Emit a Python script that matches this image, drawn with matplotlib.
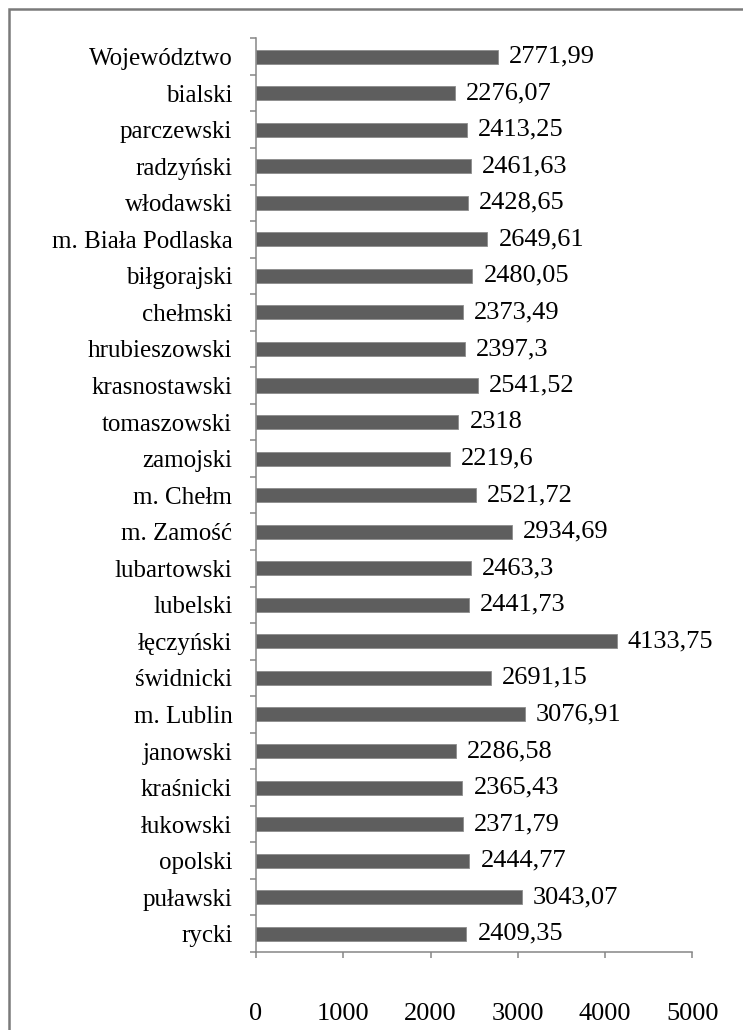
import numpy as np
import matplotlib
matplotlib.use('Agg')
import matplotlib.pyplot as plt
from matplotlib.patches import Rectangle

# dane z wykresu (od góry do dołu)
regions = ["Województwo", "bialski", "parczewski", "radzyński", "włodawski",
           "m. Biała Podlaska", "biłgorajski", "chełmski", "hrubieszowski",
           "krasnostawski", "tomaszowski", "zamojski", "m. Chełm", "m. Zamość",
           "lubartowski", "lubelski", "łęczyński", "świdnicki", "m. Lublin",
           "janowski", "kraśnicki", "łukowski", "opolski", "puławski", "rycki"]
values = [2771.99, 2276.07, 2413.25, 2461.63, 2428.65,
          2649.61, 2480.05, 2373.49, 2397.3,
          2541.52, 2318, 2219.6, 2521.72, 2934.69,
          2463.3, 2441.73, 4133.75, 2691.15, 3076.91,
          2286.58, 2365.43, 2371.79, 2444.77, 3043.07, 2409.35]
value_labels = ["2771,99", "2276,07", "2413,25", "2461,63", "2428,65",
                "2649,61", "2480,05", "2373,49", "2397,3",
                "2541,52", "2318", "2219,6", "2521,72", "2934,69",
                "2463,3", "2441,73", "4133,75", "2691,15", "3076,91",
                "2286,58", "2365,43", "2371,79", "2444,77", "3043,07", "2409,35"]
xticks = [0, 1000, 2000, 3000, 4000, 5000]

plt.rcParams['font.family'] = ['Liberation Serif', 'DejaVu Serif']

fig = plt.figure(figsize=(7.43, 10.30), dpi=100)
ax = fig.add_axes([0.3445, 0.0757, 0.5875, 0.8871])

n = len(regions)
pos = np.arange(n)[::-1]
ax.barh(pos, values, height=0.385, color='#5e5e5e', edgecolor='#8c8c8c', linewidth=0.6)

for p, v, lab in zip(pos, values, value_labels):
    ax.annotate(lab, (v, p), xytext=(8, 0), textcoords='offset points',
                va='center', ha='left', fontsize=19)

ax.set_xlim(0, 5000)
ax.set_ylim(-0.5, n - 0.5)
ax.set_xticks(xticks)
ax.set_xticklabels([str(t) for t in xticks], fontsize=19)
ax.set_yticks(pos)
ax.set_yticklabels(regions, fontsize=18)
ax.set_yticks(np.arange(n + 1) - 0.5, minor=True)

axis_col = '#868686'
ax.tick_params(axis='y', which='major', length=0, pad=17)
ax.tick_params(axis='y', which='minor', length=4, width=1.1, color=axis_col, direction='out')
ax.tick_params(axis='x', length=4, width=1.1, color=axis_col, direction='out', pad=33)
for s in ['top', 'right']:
    ax.spines[s].set_visible(False)
for s in ['left', 'bottom']:
    ax.spines[s].set_color(axis_col)
    ax.spines[s].set_linewidth(1.1)

# ramka wokół wykresu (obcięta z prawej i od dołu)
fig.patches.append(Rectangle((9 / 743, -0.05), 1.2, 1 - 9 / 1030 + 0.05,
                             transform=fig.transFigure, fill=False,
                             edgecolor='#7a7a7a', linewidth=1.8))

fig.savefig('out.png', dpi=100)
